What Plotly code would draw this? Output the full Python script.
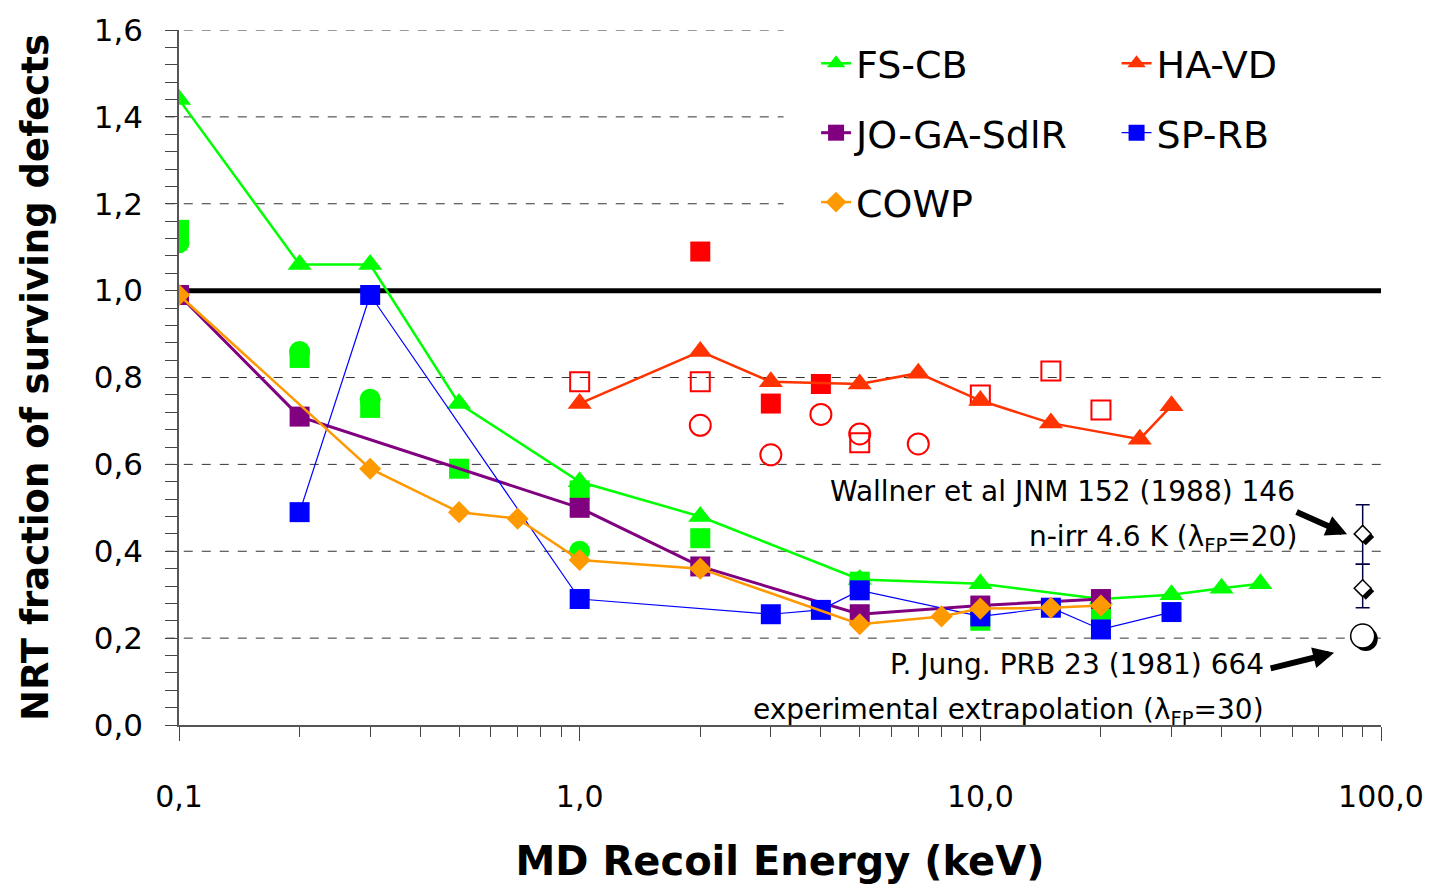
import plotly.graph_objects as go

# MD recoil energy (keV) and NRT surviving fraction for each data set
fs_cb_x = [0.1, 0.2, 0.3, 0.5, 1, 2, 5, 10, 20, 30, 40, 50]
fs_cb_y = [1.44, 1.06, 1.06, 0.74, 0.56, 0.48, 0.335, 0.325, 0.29, 0.30, 0.315, 0.325]

fs_sq_x = [0.1, 0.2, 0.3, 0.5, 1, 2, 5, 10, 20]
fs_sq_y = [1.14, 0.845, 0.73, 0.59, 0.54, 0.43, 0.33, 0.24, 0.265]

fs_ci_x = [0.1, 0.2, 0.3, 1, 5]
fs_ci_y = [1.11, 0.86, 0.75, 0.40, 0.33]

jo_x = [0.1, 0.2, 1, 2, 5, 10, 20]
jo_y = [0.99, 0.71, 0.50, 0.365, 0.255, 0.275, 0.29]

sp_x = [0.2, 0.3, 1, 3, 4, 5, 10, 15, 20, 30]
sp_y = [0.49, 0.99, 0.29, 0.255, 0.265, 0.31, 0.25, 0.27, 0.22, 0.26]

cowp_x = [0.1, 0.3, 0.5, 0.7, 1, 2, 5, 8, 10, 15, 20]
cowp_y = [0.99, 0.59, 0.49, 0.475, 0.38, 0.36, 0.232, 0.25, 0.268, 0.27, 0.275]

ha_x = [1, 2, 3, 5, 7, 10, 15, 25, 30]
ha_y = [0.74, 0.86, 0.79, 0.785, 0.81, 0.747, 0.695, 0.658, 0.735]

ha_sq_x = [2, 3, 4]
ha_sq_y = [1.09, 0.74, 0.785]

ha_osq_x = [1, 2, 5, 10, 15, 20]
ha_osq_y = [0.79, 0.79, 0.65, 0.76, 0.815, 0.725]

ha_oci_x = [2, 3, 4, 5, 7]
ha_oci_y = [0.69, 0.622, 0.715, 0.67, 0.647]

# experimental references
wallner_x = [90, 90]
wallner_y = [0.44, 0.315]
wallner_err_plus = [0.067, 0.055]
wallner_err_minus = [0.07, 0.045]

jung_x = [90]
jung_y = [0.205]

nrt_x = [0.1, 100]
nrt_y = [1.0, 1.0]

x_tickvals = [0.1, 1, 10, 100]
x_ticktext = ["0,1", "1,0", "10,0", "100,0"]
y_tickvals = [0, 0.2, 0.4, 0.6, 0.8, 1.0, 1.2, 1.4, 1.6]
y_ticktext = ["0,0", "0,2", "0,4", "0,6", "0,8", "1,0", "1,2", "1,4", "1,6"]

FONT = "DejaVu Sans"
GREEN = "#00FF00"
PURPLE = "#800080"
BLUE = "#0000FF"
ORANGE = "#FF9900"
HAVD = "#FF3300"
RED = "#FF0000"

fig = go.Figure()

# unit line
fig.add_trace(go.Scatter(x=nrt_x, y=nrt_y, mode="lines",
                         line=dict(color="black", width=5), showlegend=False,
                         hoverinfo="skip"))

# additional FS-CB sets (no connecting line)
fig.add_trace(go.Scatter(x=fs_sq_x, y=fs_sq_y, mode="markers", showlegend=False,
                         marker=dict(symbol="square", size=20, color=GREEN)))
fig.add_trace(go.Scatter(x=fs_ci_x, y=fs_ci_y, mode="markers", showlegend=False,
                         marker=dict(symbol="circle", size=21, color=GREEN)))

# HA-VD variant sets
fig.add_trace(go.Scatter(x=ha_sq_x, y=ha_sq_y, mode="markers", showlegend=False,
                         marker=dict(symbol="square", size=20, color=RED)))
fig.add_trace(go.Scatter(x=ha_osq_x, y=ha_osq_y, mode="markers", showlegend=False,
                         marker=dict(symbol="square-open", size=19, color=RED,
                                     line=dict(width=2, color=RED))))
fig.add_trace(go.Scatter(x=ha_oci_x, y=ha_oci_y, mode="markers", showlegend=False,
                         marker=dict(symbol="circle-open", size=21, color=RED,
                                     line=dict(width=2, color=RED))))

# main series
fig.add_trace(go.Scatter(x=fs_cb_x, y=fs_cb_y, name="FS-CB", mode="lines+markers",
                         legend="legend", legendgroup="a",
                         line=dict(color=GREEN, width=2.5),
                         marker=dict(symbol="triangle-up", size=21, color=GREEN)))
fig.add_trace(go.Scatter(x=ha_x, y=ha_y, name="HA-VD", mode="lines+markers",
                         legend="legend2", legendgroup="d",
                         line=dict(color=HAVD, width=2.5),
                         marker=dict(symbol="triangle-up", size=21, color=HAVD)))
fig.add_trace(go.Scatter(x=jo_x, y=jo_y, name="JO-GA-SdlR", mode="lines+markers",
                         legend="legend", legendgroup="b",
                         line=dict(color=PURPLE, width=3),
                         marker=dict(symbol="square", size=20, color=PURPLE)))
fig.add_trace(go.Scatter(x=sp_x, y=sp_y, name="SP-RB", mode="lines+markers",
                         legend="legend2", legendgroup="e",
                         line=dict(color=BLUE, width=1.2),
                         marker=dict(symbol="square", size=20, color=BLUE)))
fig.add_trace(go.Scatter(x=cowp_x, y=cowp_y, name="COWP", mode="lines+markers",
                         legend="legend", legendgroup="c",
                         line=dict(color=ORANGE, width=2.5),
                         marker=dict(symbol="diamond", size=17, color=ORANGE)))

# experimental points with drop shadows
shadow_dx = 1.018
shadow_dy = 0.007
fig.add_trace(go.Scatter(x=[v * shadow_dx for v in wallner_x],
                         y=[v - shadow_dy for v in wallner_y], mode="markers",
                         showlegend=False,
                         marker=dict(symbol="diamond", size=13, color="black")))
fig.add_trace(go.Scatter(x=wallner_x, y=wallner_y, mode="markers", showlegend=False,
                         error_y=dict(type="data", symmetric=False,
                                      array=wallner_err_plus,
                                      arrayminus=wallner_err_minus,
                                      color="#000040", thickness=1.5, width=7),
                         marker=dict(symbol="diamond", size=13, color="white",
                                     line=dict(color="black", width=1.5))))
fig.add_trace(go.Scatter(x=[v * shadow_dx for v in jung_x],
                         y=[v - shadow_dy for v in jung_y], mode="markers",
                         showlegend=False,
                         marker=dict(symbol="circle", size=24, color="black")))
fig.add_trace(go.Scatter(x=jung_x, y=jung_y, mode="markers", showlegend=False,
                         marker=dict(symbol="circle", size=24, color="white",
                                     line=dict(color="black", width=1.5))))

txt = dict(family=FONT, size=28, color="black")
annotations = [
    dict(text="Wallner et al JNM 152 (1988) 146", xref="paper", yref="paper",
         x=0.930, y=0.336, xanchor="right", yanchor="middle", showarrow=False, font=txt),
    dict(text="n-irr 4.6 K (λ<sub>FP</sub>=20)", xref="paper", yref="paper",
         x=0.932, y=0.269, xanchor="right", yanchor="middle", showarrow=False, font=txt),
    dict(text="P. Jung. PRB 23 (1981) 664", xref="paper", yref="paper",
         x=0.904, y=0.087, xanchor="right", yanchor="middle", showarrow=False, font=txt),
    dict(text="experimental extrapolation (λ<sub>FP</sub>=30)", xref="paper", yref="paper",
         x=0.904, y=0.020, xanchor="right", yanchor="middle", showarrow=False, font=txt),
    dict(text="", xref="paper", yref="paper", x=0.9718, y=0.2743,
         ax=-52, ay=-23, showarrow=True, arrowhead=2, arrowsize=0.7,
         arrowwidth=6, arrowcolor="black", standoff=0),
    dict(text="", xref="paper", yref="paper", x=0.961, y=0.104,
         ax=-65, ay=16, showarrow=True, arrowhead=2, arrowsize=0.7,
         arrowwidth=6, arrowcolor="black", standoff=0),
]

# dashed horizontal grid; the upper lines stop short of the legend block
legend_left = 0.503
grid_shapes = []
for yv in y_tickvals[1:]:
    if yv == 1.0:
        continue
    x_end = legend_left if yv > 1.0 else 1.0
    grid_shapes.append(dict(type="line", xref="x domain", yref="y",
                            x0=-0.011, x1=x_end, y0=yv, y1=yv,
                            line=dict(color="#333", width=1, dash="dash"),
                            layer="below"))

legend_common = dict(font=dict(family=FONT, size=38, color="black"),
                     bgcolor="rgba(0,0,0,0)", borderwidth=0,
                     tracegroupgap=17, xanchor="left", yanchor="top",
                     orientation="v")

fig.update_layout(
    width=1436, height=890,
    margin=dict(l=179, r=52, t=25, b=165),
    paper_bgcolor="white", plot_bgcolor="white",
    font=dict(family=FONT, color="black"),
    annotations=annotations,
    legend=dict(x=0.530, y=0.997, **legend_common),
    legend2=dict(x=0.780, y=0.997, **legend_common),
    shapes=grid_shapes,
)

fig.update_xaxes(
    type="log", range=[-1, 2], tickvals=x_tickvals, ticktext=x_ticktext,
    showgrid=False, zeroline=False, showline=True, linecolor="#555", linewidth=1.5,
    ticks="outside", ticklen=14, tickcolor="#444", tickwidth=1.2,
    ticklabelstandoff=30,
    tickfont=dict(family=FONT, size=30, color="black"),
    minor=dict(dtick="D1", ticks="outside", ticklen=10, tickcolor="#444", showgrid=False),
    title=dict(text="<b>MD Recoil Energy (keV)</b>", standoff=34,
               font=dict(family=FONT, size=40, color="black")),
)
fig.update_yaxes(
    range=[0, 1.6], tickmode="array", tickvals=y_tickvals, ticktext=y_ticktext,
    showgrid=False, zeroline=False, showline=True, linecolor="#555", linewidth=1.5,
    ticks="outside", ticklen=12, tickcolor="#444", tickwidth=1.2,
    ticklabelstandoff=16,
    tickfont=dict(family=FONT, size=31, color="black"),
    minor=dict(dtick=0.04, ticks="outside", ticklen=12, tickcolor="#444", showgrid=False),
    title=dict(text="<b>NRT fraction of surviving defects</b>", standoff=34,
               font=dict(family=FONT, size=37, color="black")),
)

fig.write_html("out.html")
